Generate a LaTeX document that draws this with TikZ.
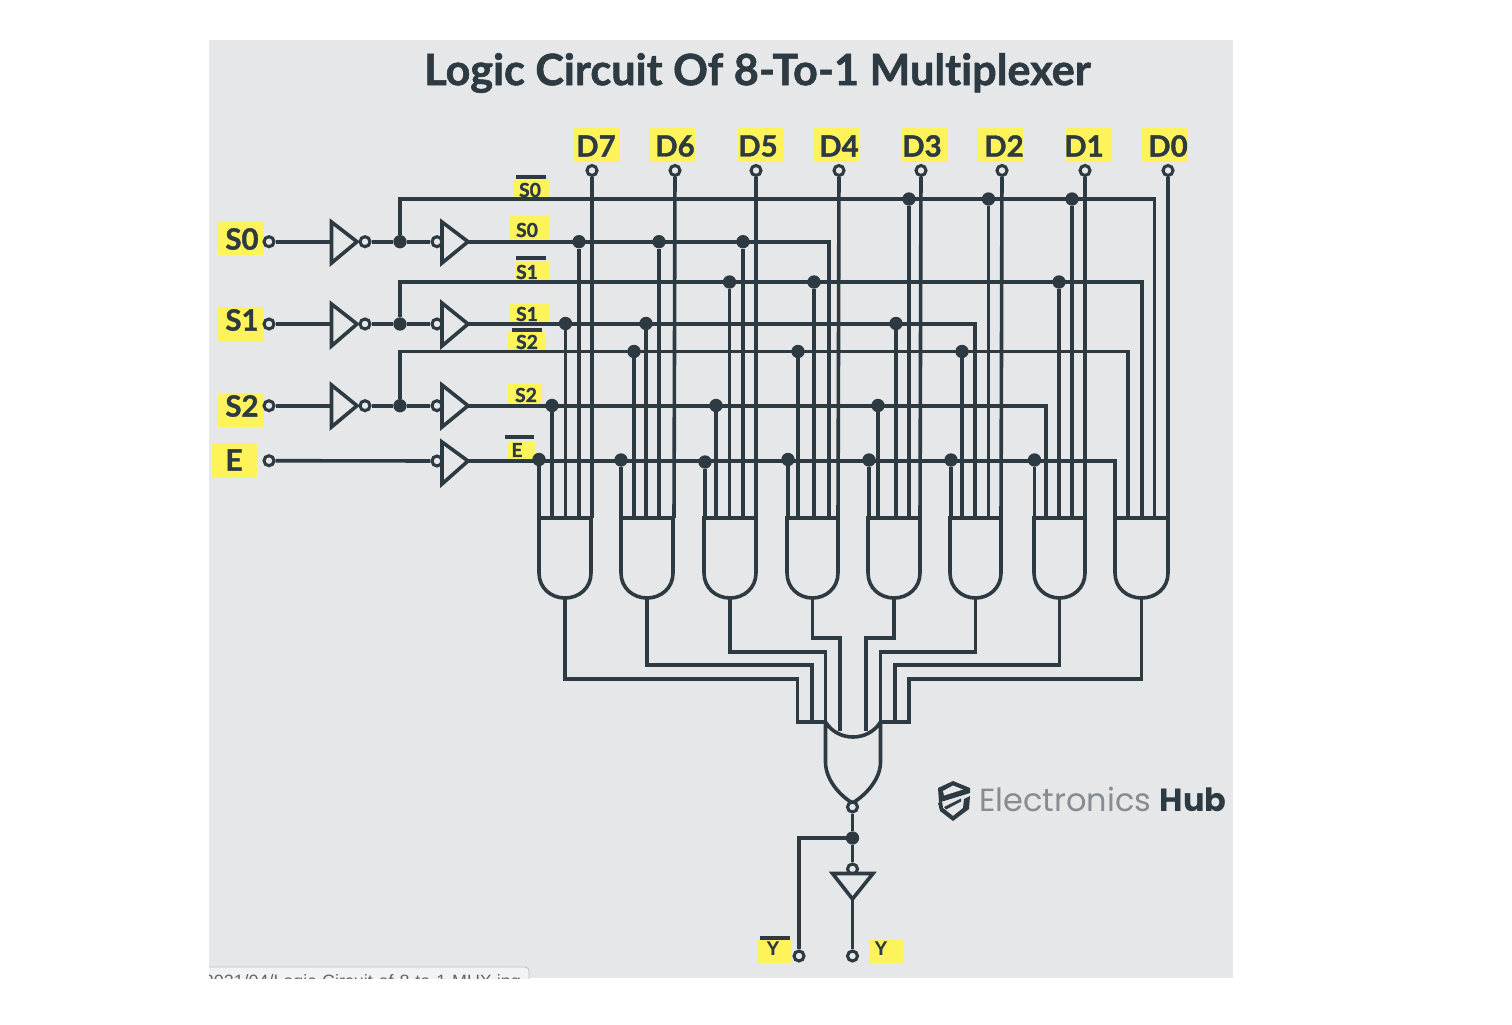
\documentclass[tikz,border=0pt]{standalone}
\usepackage{fontspec}
\usetikzlibrary{calc}
\setmainfont{Lato}[Ligatures=NoCommon,BoldFeatures={FakeBold=1.3}]
\newfontfamily\logofont{Poppins}
\newfontfamily\yfont{Liberation Sans}
\definecolor{bgc}{HTML}{E6E7E9}
\definecolor{ink}{HTML}{2D3A42}
\definecolor{hl}{HTML}{FFF35C}
\definecolor{logog}{HTML}{858C92}
\tikzset{
  x=0.75pt,y=-0.75pt,
  wire/.style={draw=ink,line width=2.7pt,line join=miter},
  term/.style={circle,draw=ink,fill=bgc,line width=2.3pt,minimum size=7.5pt,inner sep=0pt},
  dotn/.style={circle,fill=ink,minimum size=10pt,inner sep=0pt},
  big/.style={text=ink,font=\bfseries\fontsize{22}{24}\selectfont,inner sep=0pt},
  small/.style={text=ink,font=\bfseries\fontsize{14.5}{16}\selectfont,inner sep=0pt},
  ylab/.style={text=ink,font=\yfont\bfseries\fontsize{15}{17}\selectfont,inner sep=0pt},
  over/.style={ink,line width=2.4pt},
  hi/.style={fill=hl,draw=none},
}
\newcommand{\hlbox}[4]{\fill[hi] (#1,#2) rectangle (#3,#4);}
% triangle gate: name, x-left, y-top, y-bottom, y-mid, x-tip
\newcommand{\trigate}[6]{%
  \coordinate (#1in) at (#2,#5);
  \coordinate (#1tip) at (#6,#5);
  \draw[wire,fill=bgc] (#2,#3) -- (#6,#5) -- (#2,#4) -- cycle;}
% AND gate: name, x-left, x-right
\newcommand{\andgate}[3]{%
  \coordinate (#1out) at ({(#2+#3)/2},598);
  \draw[wire,line cap=rect] (#2,518) -- (#3,518) -- (#3,573)
     .. controls (#3,588) and ({#3-12},598) .. (#1out)
     .. controls ({#2+12},598) and (#2,588) .. (#2,573) -- cycle;}
\begin{document}
\begin{tikzpicture}
\useasboundingbox (0,0) rectangle (1512,1024);
\fill[white] (0,0) rectangle (1512,1024);
\fill[bgc] (209,40) rectangle (1233,978);
% browser tab remnant
\begin{scope}
  \clip (209,960) rectangle (1233,978);
  \draw[fill=white!50!bgc,draw=black!25,line width=0.6pt,rounded corners=3pt] (180,967) rectangle (529,1000);
  \node[anchor=base east,inner sep=0pt,text=black!60,font=\yfont\fontsize{13.4}{15}\selectfont] (tab) at (521,987) {2021/04/Logic-Circuit-of-8-to-1-MUX.jpg};
\end{scope}
% title
\node[text=ink,font=\bfseries\fontsize{32.4}{34}\selectfont,inner sep=0pt] (title) at (757.5,73) {Logic Circuit Of 8-To-1 Multiplexer};
% highlights
\hlbox{218}{222}{264}{255}\hlbox{218}{307}{264}{341}\hlbox{218}{393}{264}{427}\hlbox{212}{443}{257}{477}
\hlbox{514}{180}{549}{198}\hlbox{510}{215}{549}{239}\hlbox{516}{261}{549}{280}\hlbox{510}{303}{549}{322}
\hlbox{508}{331}{545}{350}\hlbox{508}{384}{542}{403}\hlbox{508}{442}{535}{460}
\hlbox{574}{128}{620}{162}\hlbox{650}{128}{695}{162}\hlbox{738}{128}{784}{162}\hlbox{814}{128}{859}{162}
\hlbox{902}{128}{948}{162}\hlbox{978}{128}{1023}{162}\hlbox{1066}{128}{1112}{162}\hlbox{1142}{128}{1188}{162}
\hlbox{758}{940}{792}{963}\hlbox{869}{940}{903}{963}
% labels
\node[big] (lS0) at (242,239) {S0};
\node[big] (lS1) at (242,320) {S1};
\node[big] (lS2) at (242,406) {S2};
\node[big] (lE) at (234,460) {E};
\foreach \n/\x in {7/596,6/675,5/758,4/839,3/922,2/1004,1/1084,0/1168}
  \node[big] (lD\n) at (\x,146) {D\n};
\node[small] (lnS0) at (530,190) {S0};
\node[small] (lpS0) at (527,230) {S0};
\node[small] (lnS1) at (527,272) {S1};
\node[small] (lpS1) at (527,314) {S1};
\node[small] (lnS2) at (527,342) {S2};
\node[small] (lpS2) at (526,395) {S2};
\node[small] (lnE) at (517,450) {E};
\node[ylab] (lnY) at (773,949) {Y};
\node[ylab] (lpY) at (881,949) {Y};
\draw[over] (516,177) -- (546,177) (516,258) -- (546,258) (512,330) -- (542,330) (505,437) -- (534,437) (760,938) -- (790,938);
% input terminals
\node[term] (tS0) at (269,241.7) {};
\node[term] (tS1) at (269,324) {};
\node[term] (tS2) at (269,405.7) {};
\node[term] (tE) at (269,460.7) {};
\foreach \n/\x in {7/592,6/675,5/756,4/839,3/921,2/1002,1/1085,0/1168}
  \node[term] (tD\n) at (\x,170.5) {};
\node[term] (tnY) at (799,956) {};
\node[term] (tpY) at (852.5,956) {};
% reference levels
\coordinate (gtop) at (0,518);
% inverters and buffers
\trigate{i0}{331.5}{222}{263}{241.7}{357}
\trigate{i1}{331.5}{304}{346}{324}{357}
\trigate{i2}{331.5}{385}{427}{405.7}{357}
\trigate{b0}{442}{222}{263}{241.7}{468}
\trigate{b1}{442}{303}{346}{324}{468}
\trigate{b2}{442}{385}{427}{405.7}{468}
\trigate{b3}{442}{442}{484}{461}{468}
\foreach \n in {0,1,2}{
  \node[term] (ib\n) at ($(i\n tip)+(8,0)$) {};
  \node[term] (bb\n) at ($(b\n in)+(-5,0)$) {};
}
\node[term] (bb3) at ($(b3in)+(-5,0)$) {};
\node[dotn] (j0) at (400,241.7) {};
\node[dotn] (j1) at (400,324) {};
\node[dotn] (j2) at (400,405.7) {};
\draw[wire] (tS0) -- (i0in);
\draw[wire] (tS1) -- (i1in);
\draw[wire] (tS2) -- (i2in);
\draw[wire] (tE) -- (bb3);
\foreach \n in {0,1,2}{
  \draw[wire] (ib\n) -- (j\n);
  \draw[wire] (j\n) -- (bb\n);
}
% select rails (corner coordinates at the far end)
\coordinate (n0c) at (1154.5,199);
\coordinate (p0c) at (829,241.7);
\coordinate (n1c) at (1142,282);
\coordinate (p1c) at (975,323.5);
\coordinate (n2c) at (1128,351.5);
\coordinate (p2c) at (1046,405.5);
\coordinate (enc) at (1115,461);
\draw[wire] (j0) -- (j0 |- n0c) -- (n0c) -- (n0c |- gtop);
\draw[wire] (b0tip) -- (b0tip -| p0c) -- (p0c |- gtop);
\draw[wire] (j1) -- (j1 |- n1c) -- (n1c) -- (n1c |- gtop);
\draw[wire] (b1tip) -- (b1tip -| p1c) -- (p1c |- gtop);
\draw[wire] (j2) -- (j2 |- n2c) -- (n2c) -- (n2c |- gtop);
\draw[wire] (b2tip) -- (b2tip -| p2c) -- (p2c |- gtop);
\draw[wire] (b3tip) -- (enc) -- (enc |- gtop);
% data lines
\foreach \n/\x in {7/592,6/674,5/756,4/838,3/920,2/1001,1/1085,0/1168}{
  \coordinate (dl\n) at (\x,518);
  \draw[wire] (tD\n) -- (dl\n);
}
% taps
\foreach \nm/\x/\y in {
  a1/539/459.5,a2/552/405.5,a3/565.5/323.5,a4/579/241.7,
  b1/621/460,b2/634/351.5,b3/646/323.5,b4/659/241.7,
  c1/705/462,c2/716/405.5,c3/729.5/282,c4/743/241.7,
  d1/788/459.5,d2/798/351.5,d3/814/282,
  e1/869/460,e2/878/405.5,e3/896/323.5,e4/909/199,
  f1/951/460,f2/962/351.5,f3/988.5/199,
  g1/1034.5/460,g2/1059/282,g3/1072/199}{
  \node[dotn] (tap\nm) at (\x,\y) {};
  \draw[wire] (tap\nm) -- (tap\nm |- gtop);
}
% AND gates
\andgate{g1}{539}{591}
\andgate{g2}{621}{673}
\andgate{g3}{704}{756}
\andgate{g4}{787}{838}
\andgate{g5}{868}{920}
\andgate{g6}{950}{1001}
\andgate{g7}{1034}{1085}
\andgate{g8}{1115}{1168}
% OR gate
\coordinate (orL) at (825.5,722);
\coordinate (orR) at (880.5,722);
\coordinate (orB) at (852.5,803);
\draw[wire,line join=round] (orL) .. controls (838,742) and (868,742) .. (orR)
  -- (880.5,762) .. controls (880.5,779) and (866,795) .. (orB)
  .. controls (839,795) and (825.5,779) .. (825.5,762) -- cycle;
% collector wires
\coordinate (lvlA) at (0,679);
\coordinate (lvlB) at (0,665);
\coordinate (lvlC) at (0,652);
\coordinate (lvlD) at (0,638);
\coordinate (in1) at (797.5,722);
\coordinate (in2) at (812,722);
\coordinate (in3) at (825.5,722);
\coordinate (in4) at (840,731);
\coordinate (in5) at (866,731);
\coordinate (in6) at (880.5,722);
\coordinate (in7) at (895,722);
\coordinate (in8) at (909,722);
\draw[wire] (g1out) -- (g1out |- lvlA) -- (in1 |- lvlA) -- (in1) -- (orL);
\draw[wire] (g2out) -- (g2out |- lvlB) -- (in2 |- lvlB) -- (in2);
\draw[wire] (g3out) -- (g3out |- lvlC) -- (in3 |- lvlC) -- (in3);
\draw[wire] (g4out) -- (g4out |- lvlD) -- (in4 |- lvlD) -- (in4);
\draw[wire] (g5out) -- (g5out |- lvlD) -- (in5 |- lvlD) -- (in5);
\draw[wire] (g6out) -- (g6out |- lvlC) -- (in6 |- lvlC) -- (in6);
\draw[wire] (g7out) -- (g7out |- lvlB) -- (in7 |- lvlB) -- (in7);
\draw[wire] (g8out) -- (g8out |- lvlA) -- (in8 |- lvlA) -- (in8) -- (orR);
% output stage
\node[term] (orb) at (852.5,807) {};
\node[dotn] (jy) at (852.5,838) {};
\node[term] (nb) at (852.5,869) {};
\coordinate (invL) at (832.5,873.5);
\coordinate (invR) at (873,873.5);
\coordinate (invT) at (852.5,899);
\draw[wire] (orb) -- (jy);
\draw[wire] (jy) -- (nb);
\draw[wire,fill=bgc] (invL) -- (invR) -- (invT) -- cycle;
\draw[wire] (invT) -- (tpY);
\draw[wire] (jy) -- (jy -| tnY) -- (tnY);
% logo
\begin{scope}[shift={(925,770)}]
  \fill[ink] (28,11) -- (45,18) -- (45,23) -- (19,31) -- (14,32) -- (13,18) -- cycle;
  \fill[bgc] (28,15.5) -- (38,19.5) -- (19,25.5) -- (18,21) -- cycle;
  \fill[ink] (13,33) -- (17,31) -- (18,38) -- (28,46) -- (38,38) -- (39,29) -- (45,26) -- (44,39) -- (28,51) -- (15,41) -- cycle;
  \fill[ink] (19,37) -- (36,28.5) -- (36,31.5) -- (21,39.5) -- cycle;
\end{scope}
\node[anchor=base west,inner sep=0pt,font=\logofont\fontsize{24}{26}\selectfont] (logotext) at (979,811) {\textcolor{logog}{Electronics} \textcolor{ink}{\bfseries Hub}};
\end{tikzpicture}
\end{document}
